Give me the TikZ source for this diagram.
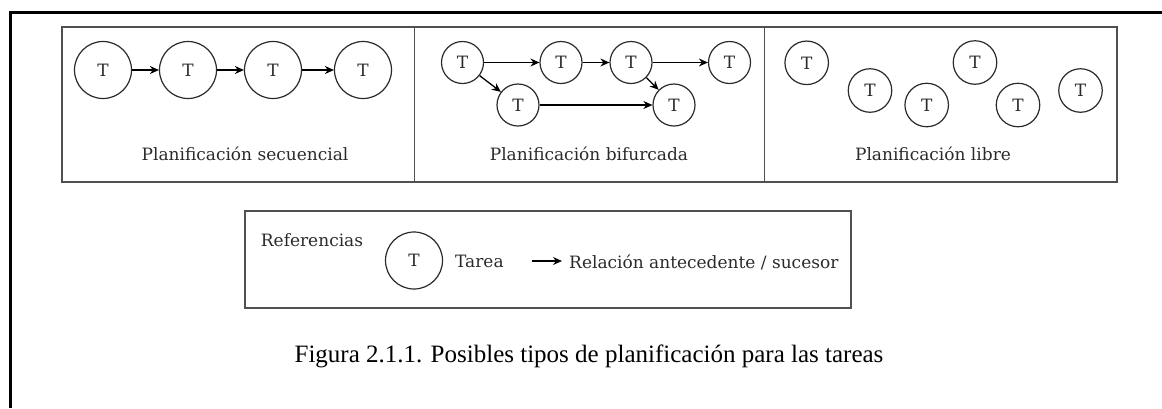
\documentclass[tikz,border=0pt]{standalone}
\usepackage{fontspec}
\setmainfont{Liberation Serif}
\newfontfamily\dvs{DejaVu Serif}
\usetikzlibrary{arrows.meta}
\definecolor{boxgray}{HTML}{505050}
\definecolor{inkgray}{HTML}{2A2A2A}
\begin{document}
\begin{tikzpicture}[x=1pt,y=-1pt,
  frame/.style={draw=black,line width=3pt},
  panel/.style={draw=boxgray,line width=1.6pt},
  task/.style={circle,draw=inkgray,line width=1.2pt,minimum size=57pt,inner sep=0pt,text=inkgray,font=\dvs\fontsize{17}{20}\selectfont},
  tasksm/.style={task,minimum size=42pt},
  tasklb/.style={task,minimum size=43.5pt},
  rel/.style={draw=black,line width=1.3pt,-{Stealth[length=9pt,width=8pt]}},
  lbl/.style={text=inkgray,font=\dvs\fontsize{17}{20}\selectfont,inner sep=0pt},
  capstyle/.style={text=black,font=\fontsize{25}{29}\selectfont,inner sep=0pt}
]
\useasboundingbox (0,0) rectangle (1162,408);
% outer frame fragment
\draw[frame] (10,408) -- (10,12) -- (1162,12);
% panels
\draw[panel] (62,27) rectangle (1117,182);
\draw[panel] (414.5,27) -- (414.5,182);
\draw[panel] (764.5,27) -- (764.5,182);
% sequential
\node[task] (s1) at (103,70) {T};
\node[task] (s2) at (188,70) {T};
\node[task] (s3) at (273,70) {T};
\node[task] (s4) at (363,70) {T};
\draw[rel] (s1) -- (s2);
\draw[rel] (s2) -- (s3);
\draw[rel] (s3) -- (s4);
\node[lbl] (lseq) at (245,154) {Planificación secuencial};
% bifurcada
\node[tasksm] (ba) at (462.5,62.5) {T};
\node[tasksm] (bb) at (561,62.5) {T};
\node[tasksm] (bc) at (631,62.5) {T};
\node[tasksm] (bd) at (729.5,62.5) {T};
\node[tasksm] (be) at (518,105) {T};
\node[tasksm] (bf) at (674,105) {T};
\draw[rel] (ba) -- (bb);
\draw[rel] (bb) -- (bc);
\draw[rel] (bc) -- (bd);
\draw[rel] (ba) -- (be);
\draw[rel] (bc) -- (bf);
\draw[rel] (be) -- (bf);
\node[lbl] (lbif) at (589,154) {Planificación bifurcada};
% libre
\node[tasklb] (l1) at (806.7,62.8) {T};
\node[tasklb] (l2) at (870,90.5) {T};
\node[tasklb] (l3) at (926.7,105) {T};
\node[tasklb] (l4) at (975,62.5) {T};
\node[tasklb] (l5) at (1018,105) {T};
\node[tasklb] (l6) at (1080.5,90.5) {T};
\node[lbl] (llib) at (933,154) {Planificación libre};
% legend
\draw[panel] (245,211) rectangle (851,308);
\node[lbl,anchor=west] (ref) at (260.7,240) {Referencias};
\node[task] (lt) at (414,260.5) {T};
\node[lbl,anchor=west] (tarea) at (455,261.7) {Tarea};
\coordinate (a1) at (531.7,261);
\coordinate (a2) at (562,261);
\node[lbl,anchor=west] (relt) at (569,262) {Relación antecedente / sucesor};
\draw[rel] (a1) -- (a2);
% caption
\node[capstyle,anchor=base] (caption) at (589,362) {Figura 2.1.1. Posibles tipos de planificación para las tareas};
\end{tikzpicture}
\end{document}
